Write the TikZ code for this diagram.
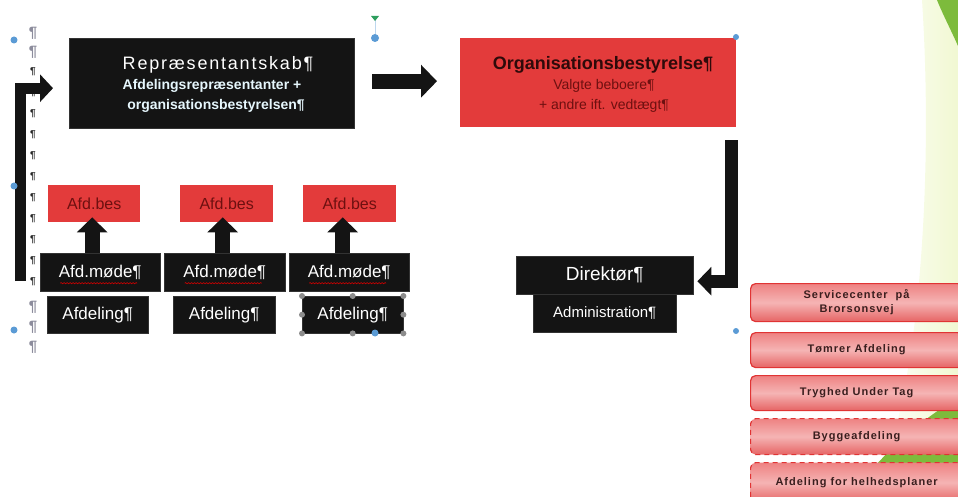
\documentclass[tikz,border=0pt]{standalone}
\usepackage{fontspec}
\setmainfont{Liberation Sans}
\usetikzlibrary{arrows.meta,calc,decorations.pathmorphing}
\definecolor{boxred}{HTML}{E33B3B}
\definecolor{darkred}{HTML}{6E1010}
\definecolor{titlered}{HTML}{2E0A0A}
\definecolor{boxblack}{HTML}{141414}
\definecolor{pilgrey}{HTML}{8C8C9C}
\definecolor{selblue}{HTML}{5B9BD5}
\definecolor{selgreen}{HTML}{2E9E5E}
\definecolor{leaf}{HTML}{7DBB3C}
\definecolor{paleleaf}{HTML}{F1F8D2}
\definecolor{listedge}{HTML}{E03434}
\definecolor{listtop}{HTML}{EE8282}
\definecolor{listmid}{HTML}{F5B4B4}
\definecolor{listbot}{HTML}{E66464}
\definecolor{listtext}{HTML}{3A1E1E}
\begin{document}
\begin{tikzpicture}[x=1pt,y=-1pt,
  blackbox/.style={draw=black!80,fill=boxblack,text=white,anchor=north west,inner sep=0pt,align=center},
  redbox/.style={fill=boxred,anchor=north west,inner sep=0pt,align=center},
  listbox/.style={rounded corners=5pt,draw=listedge,line width=1.2pt,top color=listtop,bottom color=listbot,middle color=listmid,
    anchor=north west,minimum width=212pt,inner sep=0pt,text=listtext,align=center,
    font=\fontsize{11}{14}\selectfont\bfseries\addfontfeatures{LetterSpace=9}},
  dashedlist/.style={listbox,dash pattern=on 5pt off 4pt},
  pilg/.style={text=pilgrey,font=\fontsize{15}{15}\selectfont\bfseries,inner sep=0pt},
  pilb/.style={text=black!85,font=\fontsize{10}{10}\selectfont\bfseries,inner sep=0pt},
  txt/.style={anchor=base,inner sep=0pt},
  blockarrow/.style={draw=boxblack,line width=#1},
  uparr/.style={blockarrow=15pt,-{Triangle[width=30pt,length=15pt]},shorten >=-5pt},
  handle/.style={fill=black!45},
  selhandle/.style={fill=selblue},
  spell/.style={red!85!black,line width=0.6pt,decorate,decoration={snake,amplitude=0.6pt,segment length=3pt}}
]
\useasboundingbox (0,0) rectangle (958,497);
\clip (0,0) rectangle (958,497);

% green background shape on the right
\shade[left color=white,right color=paleleaf] (922,0) -- (958,0) -- (958,497) -- (870,497) .. controls (915,420) and (935,200) .. (922,0) -- cycle;
\fill[leaf] (937,0) -- (958,0) -- (958,46) .. controls (951,30) and (943,15) .. (937,0) -- cycle;
\fill[leaf] (958,398) -- (958,497) -- (850,497) .. controls (880,455) and (920,420) .. (958,398) -- cycle;

% pilcrow column
\node[pilg] (pa) at (33,33) {¶};
\node[pilg] (pb) at (33,52) {¶};
\foreach \yy [count=\i] in {72,93,114,135,156,177,198,219,240,261,282}
  \node[pilb] (pm\i) at (33,\yy) {¶};
\node[pilg] (pc) at (33,307) {¶};
\node[pilg] (pd) at (33,327) {¶};
\node[pilg] (pe) at (33,347) {¶};

% Repræsentantskab
\node[blackbox,minimum width=285pt,minimum height=90pt] (rep) at (69,38) {};
\node[txt,text=white,font=\fontsize{18}{20}\selectfont\addfontfeatures{LetterSpace=10}] (rep1) at (218,70) {Repræsentantskab¶};
\node[txt,text=white!90!cyan,font=\fontsize{14}{16}\selectfont\bfseries] (rep2) at (212,90) {Afdelingsrepræsentanter +};
\node[txt,text=white!90!cyan,font=\fontsize{14}{16}\selectfont\bfseries] (rep3) at (216,110) {organisationsbestyrelsen¶};

% Organisationsbestyrelse
\node[redbox,minimum width=276pt,minimum height=89pt] (org) at (460,38) {};
\node[txt,text=titlered,font=\fontsize{18}{20}\selectfont\bfseries] (org1) at (603,70) {Organisationsbestyrelse¶};
\node[txt,text=darkred,font=\fontsize{14}{16}\selectfont] (org2) at (604,90) {Valgte beboere¶};
\node[txt,text=darkred,font=\fontsize{14}{16}\selectfont] (org3) at (604,110) {+ andre ift. vedtægt¶};

% Direktør / Administration
\node[blackbox,minimum width=177pt,minimum height=38pt,font=\fontsize{19}{20}\selectfont] (dir) at (516,256) {Direktør¶};
\node[blackbox,minimum width=143pt,minimum height=38pt,font=\fontsize{15}{16}\selectfont] (adm) at (533,294) {Administration¶};

% Afdeling columns
\node[redbox,minimum width=92pt,minimum height=37pt,text=darkred,font=\fontsize{16}{18}\selectfont] (b1) at (48,185) {Afd.bes};
\node[redbox,minimum width=93pt,minimum height=37pt,text=darkred,font=\fontsize{16}{18}\selectfont] (b2) at (180,185) {Afd.bes};
\node[redbox,minimum width=93pt,minimum height=37pt,text=darkred,font=\fontsize{16}{18}\selectfont] (b3) at (303,185) {Afd.bes};

\node[blackbox,minimum width=120pt,minimum height=38pt,font=\fontsize{17}{18}\selectfont] (m1) at (40,253) {Afd.møde¶};
\node[blackbox,minimum width=121pt,minimum height=38pt,font=\fontsize{17}{18}\selectfont] (m2) at (164,253) {Afd.møde¶};
\node[blackbox,minimum width=120pt,minimum height=38pt,font=\fontsize{17}{18}\selectfont] (m3) at (289,253) {Afd.møde¶};

\node[blackbox,minimum width=101pt,minimum height=37pt,font=\fontsize{17}{18}\selectfont] (a1) at (47,296) {Afdeling¶};
\node[blackbox,minimum width=102pt,minimum height=37pt,font=\fontsize{17}{18}\selectfont] (a2) at (173,296) {Afdeling¶};
\node[blackbox,minimum width=101pt,minimum height=37pt,font=\fontsize{17}{18}\selectfont] (a3) at (302,296) {Afdeling¶};

% spelling underlines
\foreach \m in {m1,m2,m3}
  \draw[spell] ($(\m.center)+(-40,11)$) -- ++(77,0);

% up arrows
\draw[uparr] ([xshift=-2pt]b1.south |- m1.north) -- ([xshift=-2pt]b1.south);
\draw[uparr] ([xshift=-4pt]b2.south |- m2.north) -- ([xshift=-4pt]b2.south);
\draw[uparr] ([xshift=-7pt]b3.south |- m3.north) -- ([xshift=-7pt]b3.south);

% main arrows
\draw[blockarrow=15pt,-{Triangle[width=32pt,length=16pt]},shorten <=18pt,shorten >=23pt]
  ([yshift=2pt]rep.east) -- ([yshift=2pt]rep.east -| org.west);
\draw[blockarrow=13pt,-{Triangle[width=28pt,length=14pt]},shorten <=13pt,shorten >=4pt]
  ([xshift=-5pt]org.south east) |- ([yshift=-6pt]dir.east);
\coordinate (lb) at (20,281);
\draw[blockarrow=11pt,-{Triangle[width=27pt,length=13pt]},shorten >=16pt]
  (lb) |- ([yshift=-5pt]rep.west);

% right list
\node[listbox,minimum height=38pt] (l1) at (750,283) {Servicecenter~~på\\Brorsonsvej};
\node[listbox,minimum height=35pt] (l2) at (750,332) {Tømrer Afdeling};
\node[listbox,minimum height=35pt] (l3) at (750,375) {Tryghed Under Tag};
\node[dashedlist,minimum height=36pt] (l4) at (750,418) {Byggeafdeling};
\node[dashedlist,minimum height=40pt] (l5) at (750,462) {Afdeling for helhedsplaner};

% selection handles
\foreach \a in {north west,north,north east,east,south east,south,south west,west}
  \fill[handle] (a3.\a) circle (3pt);
\fill[selblue] (375,333) circle (3.5pt);
\fill[selhandle] (14,40) circle (3.5pt);
\fill[selhandle] (14,186) circle (3.5pt);
\fill[selhandle] (14,330) circle (3.5pt);
\fill[selhandle] (375,38) circle (4pt);
\draw[selblue!40,line width=1pt] (375,20) -- (375,34);
\fill[selgreen] (371,16) -- (379,16) -- (375,21) -- cycle;
\fill[selhandle] (736,37) circle (3pt);
\fill[selhandle] (736,331) circle (3pt);
\end{tikzpicture}
\end{document}
